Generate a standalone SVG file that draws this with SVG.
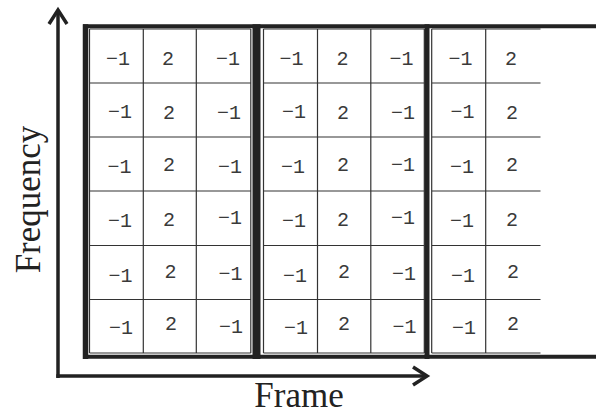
<svg xmlns="http://www.w3.org/2000/svg" width="596" height="414" viewBox="0 0 596 414">
<defs>
<style>
.v{font-family:"Liberation Mono","Courier New",monospace;font-size:20px;fill:#3a3a3a;text-anchor:middle}
.lbl{font-family:"Liberation Serif","Times New Roman",serif;font-size:35px;fill:#222}
.cell{stroke:#333;stroke-width:1.2;fill:none}
.thick{stroke:#222;fill:none}
.axis{stroke:#222;stroke-width:3.5;fill:none}
</style>
<marker id="chev" markerUnits="userSpaceOnUse" viewBox="-16 -11 18 22" refX="0" refY="0" markerWidth="18" markerHeight="22" orient="auto" overflow="visible">
<path d="M-14,-9 L0,0 L-14,9" fill="none" stroke="#222" stroke-width="3.5" stroke-linejoin="miter"/>
</marker>
</defs>
<rect width="596" height="414" fill="#fff"/>

<g id="grid-lines">
<path class="cell" d="M89.5,29 V353 M143.3,29 V353 M196.3,29 V353 M250.8,29 V353
M89.5,29 H250.8 M89.5,83 H250.8 M89.5,137 H250.8 M89.5,191 H250.8 M89.5,245.5 H250.8 M89.5,299.5 H250.8 M89.5,353 H250.8"/>
<path class="cell" d="M263.5,29 V353 M317.5,29 V353 M370.8,29 V353 M424.3,29 V353
M263.5,29 H424.3 M263.5,83 H424.3 M263.5,137 H424.3 M263.5,191 H424.3 M263.5,245.5 H424.3 M263.5,299.5 H424.3 M263.5,353 H424.3"/>
<path class="cell" d="M431.7,29 V353 M485.7,29 V353
M431.7,29 H540.5 M431.7,83 H540.5 M431.7,137 H540.5 M431.7,191 H540.5 M431.7,245.5 H540.5 M431.7,299.5 H540.5 M431.7,353 H540.5"/>
</g>

<g id="frames">
<path class="thick" stroke-width="4" d="M83,26.3 H596 M83,356.7 H596"/>
<path class="thick" stroke-width="5.5" d="M85.5,24.3 V358.9"/>
<path class="thick" stroke-width="8" d="M256.5,24.3 V358.9"/>
<path class="thick" stroke-width="5" d="M427,24.3 V358.9"/>
</g>

<g id="values">
<text class="v" x="118" y="65">−1</text><text class="v" x="168" y="65">2</text><text class="v" x="228" y="65">−1</text>
<text class="v" x="291.5" y="65">−1</text><text class="v" x="342.5" y="65">2</text><text class="v" x="401.5" y="65">−1</text>
<text class="v" x="460.5" y="65">−1</text><text class="v" x="511" y="65">2</text>
<text class="v" x="120" y="118">−1</text><text class="v" x="169" y="119">2</text><text class="v" x="229" y="119">−1</text>
<text class="v" x="294" y="118">−1</text><text class="v" x="343" y="119">2</text><text class="v" x="403" y="119">−1</text>
<text class="v" x="462.5" y="118">−1</text><text class="v" x="512" y="119">2</text>
<text class="v" x="119.5" y="173">−1</text><text class="v" x="169" y="171">2</text><text class="v" x="230" y="173">−1</text>
<text class="v" x="293" y="173">−1</text><text class="v" x="343" y="171">2</text><text class="v" x="403" y="171">−1</text>
<text class="v" x="462" y="173">−1</text><text class="v" x="512" y="171">2</text>
<text class="v" x="120" y="227">−1</text><text class="v" x="169" y="226">2</text><text class="v" x="230" y="224">−1</text>
<text class="v" x="294" y="227">−1</text><text class="v" x="343" y="226">2</text><text class="v" x="403" y="224">−1</text>
<text class="v" x="462" y="227">−1</text><text class="v" x="512" y="226">2</text>
<text class="v" x="120.5" y="282">−1</text><text class="v" x="170.5" y="278">2</text><text class="v" x="230.5" y="280">−1</text>
<text class="v" x="295" y="282">−1</text><text class="v" x="344" y="278">2</text><text class="v" x="404" y="280">−1</text>
<text class="v" x="463" y="282">−1</text><text class="v" x="513" y="278">2</text>
<text class="v" x="121" y="334">−1</text><text class="v" x="171" y="330">2</text><text class="v" x="231" y="333">−1</text>
<text class="v" x="296" y="334">−1</text><text class="v" x="344" y="330">2</text><text class="v" x="404.5" y="333">−1</text>
<text class="v" x="464" y="334">−1</text><text class="v" x="513" y="330">2</text>
</g>

<g id="connectors">
<path class="axis" d="M58,378 V10" marker-end="url(#chev)"/>
<path class="axis" d="M56.3,376 H427" marker-end="url(#chev)"/>
</g>

<g id="axis-labels">
<text class="lbl" x="299" y="407" text-anchor="middle">Frame</text>
<text class="lbl" transform="translate(40,199.5) rotate(-90)" text-anchor="middle">Frequency</text>
</g>
</svg>
